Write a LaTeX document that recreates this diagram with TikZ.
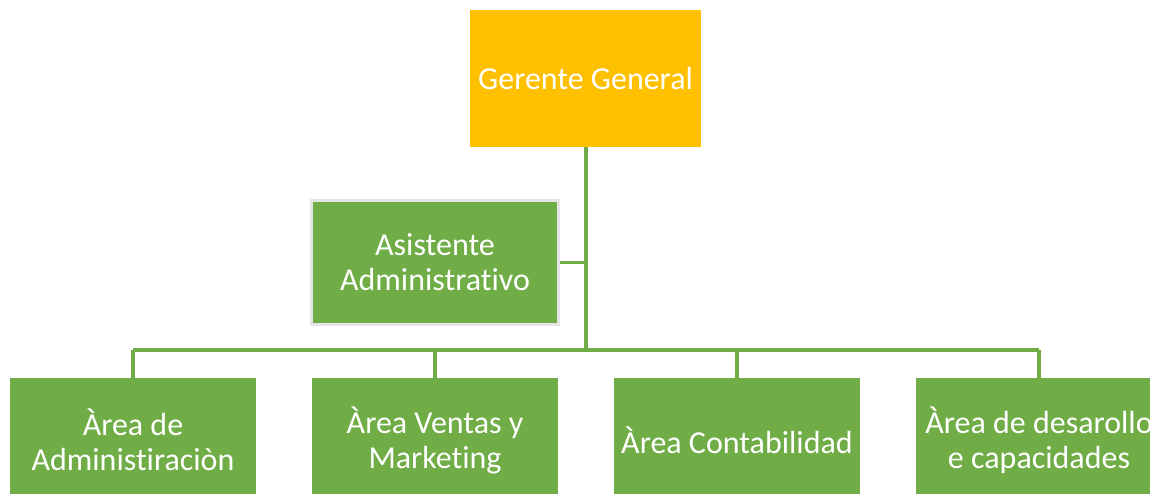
\documentclass[tikz,border=0pt]{standalone}
\usepackage{fontspec}
\setmainfont{Carlito}[RawFeature=-liga]
\definecolor{verde}{HTML}{70AD47}
\definecolor{oro}{HTML}{FFC000}
\tikzset{
  caja/.style={fill=verde, text=white, align=center, minimum width=4.92cm, minimum height=2.48cm, inner sep=0pt, font=\fontsize{18.2}{20}\selectfont},
  linea/.style={draw=verde, line width=2pt}
}
\begin{document}
\begin{tikzpicture}
\useasboundingbox (0,0) rectangle (23,-9.88);
\clip (0,0) rectangle (23,-9.88);
\node[caja, fill=oro, minimum width=4.62cm, minimum height=2.74cm] (1) at (11.71,-1.57) {Gerente General};
\node[caja, draw=black!10, line width=1.5pt, minimum width=4.94cm] (2) at (8.70,-5.25) {Asistente\\Administrativo};
\node[caja] (3) at (2.66,-8.80) {Àrea de\\Administiraciòn};
\node[caja] (4) at (8.70,-8.80) {Àrea Ventas y\\Marketing};
\node[caja] (5) at (14.74,-8.80) {Àrea Contabilidad};
\node[caja] (6) at (20.78,-8.80) {Àrea de desarollo\\e capacidades};
\coordinate (j) at (11.72,-7.00);

\path[linea] (1.south -| j) -- (j);
\path[linea] (2.east) -- (2.east -| j);
\path[linea] (3.north |- j) -- (6.north |- j);
\path[linea] (3.north) -- (3.north |- j);
\path[linea] (4.north) -- (4.north |- j);
\path[linea] (5.north) -- (5.north |- j);
\path[linea] (6.north) -- (6.north |- j);
\end{tikzpicture}
\end{document}
